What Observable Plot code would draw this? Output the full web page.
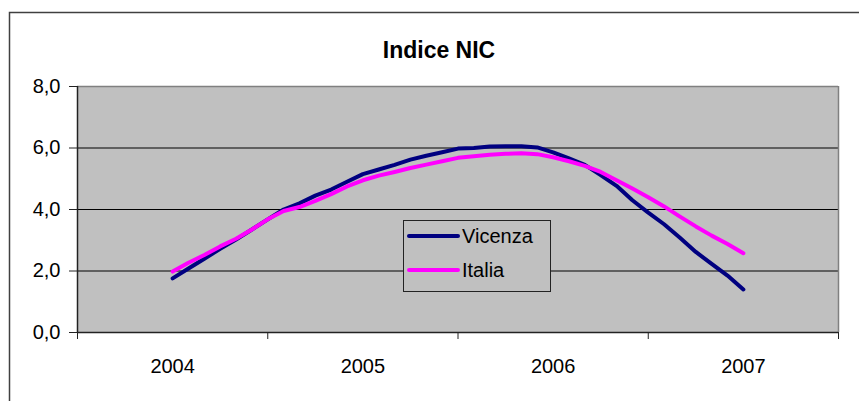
<!DOCTYPE html>
<html>
<head>
<meta charset="utf-8">
<script src="https://cdn.jsdelivr.net/npm/d3@7"></script>
<script src="https://cdn.jsdelivr.net/npm/@observablehq/plot@0.6"></script>
<style>
  html, body { margin: 0; padding: 0; background: #fff; }
  #chart svg { display: block; }
</style>
</head>
<body>
<div id="chart"></div>
<script>
const title = "Indice NIC";
const years = [2004, 2005, 2006, 2007];
const seriesNames = ["Vicenza", "Italia"];
const colors = ["#000080", "#FF00FF"];
// monthly values, Jan 2004 .. Jan 2007
const vicenza = [1.76, 2.08, 2.40, 2.72, 3.02, 3.35, 3.68, 4.00, 4.20, 4.45, 4.65, 4.90, 5.15,
                 5.30, 5.45, 5.62, 5.75, 5.86, 5.98, 6.00, 6.05, 6.06, 6.06, 6.02, 5.86,
                 5.66, 5.45, 5.12, 4.77, 4.30, 3.90, 3.52, 3.08, 2.62, 2.23, 1.85, 1.40];
const italia  = [1.98, 2.27, 2.52, 2.80, 3.05, 3.35, 3.68, 3.95, 4.08, 4.28, 4.50, 4.75, 4.95,
                 5.10, 5.22, 5.35, 5.46, 5.57, 5.68, 5.73, 5.78, 5.81, 5.83, 5.80, 5.70,
                 5.57, 5.42, 5.22, 4.95, 4.68, 4.40, 4.10, 3.77, 3.45, 3.15, 2.88, 2.58];
const yTicks = [0, 2, 4, 6, 8];

const data = [];
[vicenza, italia].forEach((vals, s) => {
  vals.forEach((v, i) => data.push({series: seriesNames[s], t: years[0] + i / 12, v}));
});
const boundaries = [...years.map(y => y - 0.5), years[years.length - 1] + 0.5];
const font = "'Liberation Sans', Arial, sans-serif";

const plot = Plot.plot({
  width: 859,
  height: 401,
  marginLeft: 77,
  marginRight: 21,
  marginTop: 86,
  marginBottom: 69,
  style: {fontFamily: font, fontSize: "20px", background: "#fff", color: "#000"},
  x: {type: "linear", domain: [boundaries[0], boundaries[boundaries.length - 1]], label: null},
  y: {domain: [0, 8], label: null},
  color: {domain: seriesNames, range: colors},
  marks: [
    Plot.frame({fill: "#C0C0C0", stroke: null}),
    Plot.ruleY([2, 4, 6], {stroke: "#000", strokeWidth: 1}),
    Plot.ruleY([8], {stroke: "#808080", strokeWidth: 1.5}),
    Plot.ruleX([boundaries[boundaries.length - 1]], {stroke: "#808080", strokeWidth: 1.5}),
    Plot.line(data, {x: "t", y: "v", z: "series", stroke: "series", strokeWidth: 4, strokeLinejoin: "round", strokeLinecap: "round"}),
    Plot.ruleX([boundaries[0]], {stroke: "#222", strokeWidth: 1.5}),
    Plot.ruleY([0], {stroke: "#222", strokeWidth: 1.5}),
    Plot.axisY({ticks: yTicks, tickFormat: d => d.toFixed(1).replace(".", ","), tickSize: 8, tickPadding: 9, fontSize: 20, stroke: "#222", label: null}),
    Plot.axisX({ticks: boundaries, tickSize: 7, tickFormat: () => "", stroke: "#222", label: null}),
    Plot.axisX({ticks: years, tickSize: 0, tickPadding: 26, tickFormat: d => String(d), fontSize: 20, label: null}),
    Plot.text([title], {frameAnchor: "top", dx: -19, dy: -45, fontWeight: "bold", fontSize: 23, fill: "#000"})
  ]
});

const svg = d3.select(plot);
// outer chart border
svg.insert("rect", ":first-child")
  .attr("x", 9.5).attr("y", 12.5).attr("width", 870).attr("height", 400)
  .attr("fill", "#fff").attr("stroke", "#404040").attr("stroke-width", 1.5);
// legend
const lg = svg.append("g");
lg.append("rect").attr("x", 403.5).attr("y", 220.5).attr("width", 147).attr("height", 71)
  .attr("fill", "#C0C0C0").attr("stroke", "#222").attr("stroke-width", 1);
seriesNames.forEach((name, i) => {
  const yy = 236 + i * 34;
  lg.append("line").attr("x1", 409).attr("x2", 458).attr("y1", yy).attr("y2", yy)
    .attr("stroke", colors[i]).attr("stroke-width", 4).attr("stroke-linecap", "round");
  lg.append("text").attr("x", 462).attr("y", yy).attr("dy", "0.36em")
    .attr("text-anchor", "start")
    .attr("font-family", font).attr("font-size", 20).attr("fill", "#000").text(name);
});
document.getElementById("chart").appendChild(plot);
</script>
</body>
</html>
